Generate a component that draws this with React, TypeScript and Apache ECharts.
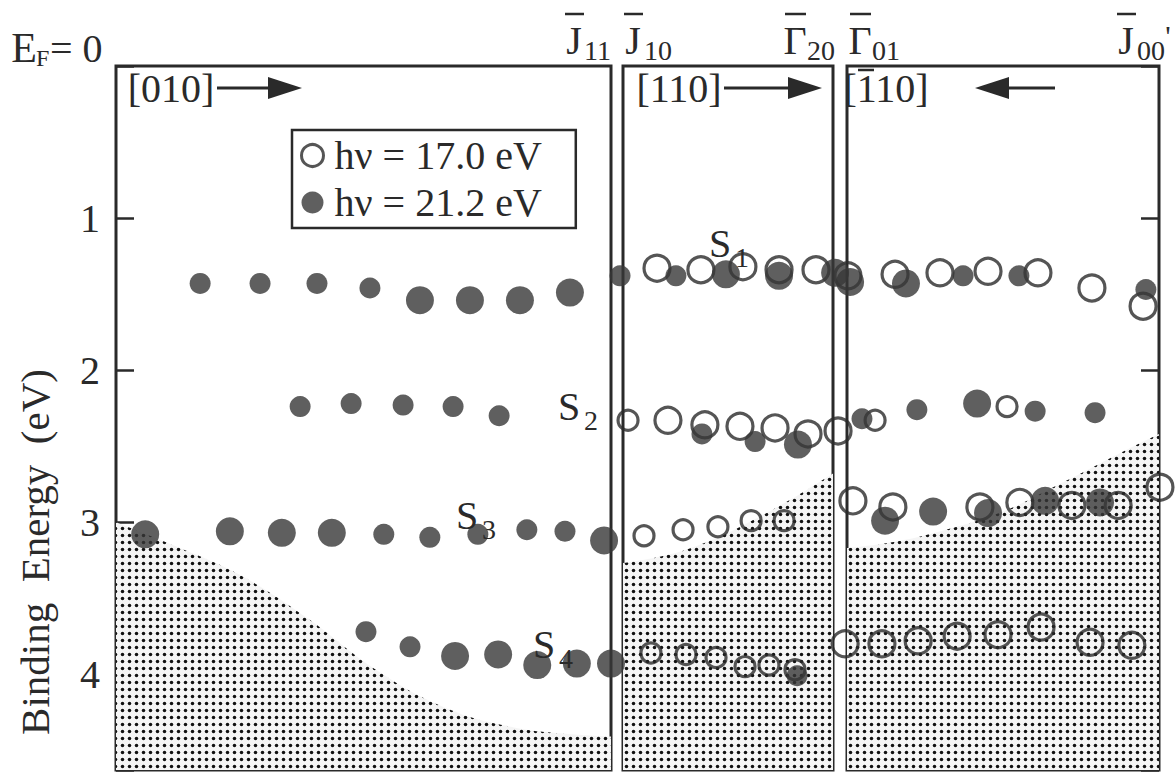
import React, { useEffect, useRef } from "react";
import * as echarts from "echarts";

// ---------------- data ----------------
// Each point: [position along the panel (% of panel width), binding energy (eV), strong=1 / weak=0]
const legendNames = ["hν = 17.0 eV", "hν = 21.2 eV"];
const yTickValues = [0, 1, 2, 3, 4];

// Panel 1: [010]  (J11 at right edge)
const p1Filled = [
  [17.0, 1.43, 0], [29.1, 1.43, 0], [40.6, 1.43, 0], [51.3, 1.46, 0],
  [61.4, 1.54, 1], [71.5, 1.54, 1], [81.6, 1.54, 1], [91.7, 1.49, 1],
  [37.2, 2.24, 0], [47.5, 2.22, 0], [58.0, 2.23, 0], [68.1, 2.24, 0], [77.4, 2.3, 0],
  [5.9, 3.08, 1], [23.0, 3.06, 1], [33.5, 3.07, 1], [43.6, 3.07, 1], [54.1, 3.08, 0],
  [63.4, 3.1, 0], [73.1, 3.08, 0], [83.0, 3.05, 0], [90.7, 3.06, 0], [98.6, 3.12, 1],
  [50.5, 3.72, 0], [59.4, 3.82, 0], [68.5, 3.88, 1], [77.2, 3.87, 1], [85.1, 3.94, 1],
  [93.1, 3.93, 1], [100.0, 3.93, 1],
];
const p1Bulk = [
  [0, 3.0], [10.7, 3.14], [24.6, 3.34], [38.6, 3.63], [52.5, 3.97],
  [66.5, 4.22], [80.4, 4.35], [94.3, 4.4], [100, 4.41],
];

// Panel 2: [110]  (J10 -> Γ20)
const p2Open = [
  [16.2, 1.33, 1], [37.1, 1.34, 1], [57.1, 1.32, 1], [74.3, 1.34, 1], [91.9, 1.34, 1],
  [2.4, 2.33, 0], [21.4, 2.33, 1], [39.0, 2.36, 1], [55.7, 2.37, 1], [72.4, 2.38, 1],
  [88.1, 2.42, 1], [102.4, 2.4, 1],
  [10.0, 3.09, 0], [28.6, 3.05, 0], [45.2, 3.03, 0], [61.0, 2.99, 0], [76.7, 2.99, 0],
  [13.3, 3.86, 0], [30.0, 3.87, 0], [44.3, 3.89, 0], [58.1, 3.95, 0], [69.5, 3.94, 0],
  [81.9, 3.97, 0],
];
const p2Filled = [
  [-1.4, 1.38, 0], [25.2, 1.38, 0], [49.0, 1.37, 1], [74.3, 1.38, 1], [101.0, 1.36, 1],
  [37.6, 2.42, 0], [62.9, 2.47, 0], [83.3, 2.49, 1],
  [82.9, 4.01, 0],
];
const p2Bulk = [
  [0, 3.27], [20, 3.22], [40, 3.13], [60, 3.0], [80, 2.85], [100, 2.68],
];

// Panel 3: [-110]  (Γ01 -> J00')
const p3Open = [
  [0.3, 1.38, 1], [15.4, 1.37, 1], [29.8, 1.36, 1], [45.2, 1.35, 1], [61.2, 1.36, 1],
  [78.5, 1.46, 1], [94.9, 1.58, 1],
  [9.0, 2.33, 0], [51.3, 2.24, 0],
  [1.9, 2.86, 1], [14.7, 2.9, 1], [42.6, 2.9, 1], [55.4, 2.87, 1], [72.1, 2.89, 1],
  [86.9, 2.89, 1], [100.3, 2.77, 1],
  [-0.6, 3.8, 1], [11.2, 3.8, 1], [22.8, 3.78, 1], [35.3, 3.75, 1], [48.4, 3.74, 1],
  [62.2, 3.69, 1], [77.9, 3.79, 1], [91.3, 3.81, 1],
];
const p3Filled = [
  [1.0, 1.42, 1], [18.9, 1.43, 1], [37.2, 1.38, 0], [55.1, 1.38, 0], [95.8, 1.47, 0],
  [4.8, 2.32, 0], [22.4, 2.26, 0], [41.7, 2.22, 1], [60.3, 2.27, 0], [79.5, 2.28, 0],
  [12.2, 2.99, 1], [27.6, 2.93, 1], [45.2, 2.94, 1], [63.5, 2.86, 1], [81.1, 2.87, 1],
];
const p3Bulk = [
  [0, 3.17], [15, 3.13], [30, 3.06], [50, 2.93], [70, 2.73], [90, 2.52], [100, 2.42],
];

// ---------------- styling ----------------
const FONT = '"Liberation Serif", "DejaVu Serif", serif';
const INK = "#2a2a2a";
const FILL = "#373737";
const FS = 40;
const SUB = 28;

function dotPattern(): any {
  const c = document.createElement("canvas");
  c.width = 7;
  c.height = 7;
  const ctx = c.getContext("2d")!;
  ctx.fillStyle = "#f5f5f5";
  ctx.fillRect(0, 0, 7, 7);
  ctx.fillStyle = "#111111";
  ctx.beginPath();
  ctx.arc(3.5, 3.5, 1.75, 0, Math.PI * 2);
  ctx.fill();
  return { image: c, repeat: "repeat" };
}

function scatter(name: string, idx: number, data: number[][], open: boolean) {
  return {
    type: "scatter",
    name,
    xAxisIndex: idx,
    yAxisIndex: idx,
    data: data.map((d) => [d[0], d[1], d[2]]),
    symbol: "circle",
    symbolSize: (v: number[]) => (open ? (v[2] ? 26 : 20) : v[2] ? 28 : 21),
    clip: false,
    z: open ? 3 : 4,
    silent: true,
    itemStyle: open
      ? { color: "rgba(255,255,255,0)", borderColor: INK, borderWidth: 3.2 }
      : { color: FILL },
  };
}

function bulk(idx: number, data: number[][], pattern: any) {
  return {
    type: "line",
    name: "bulk",
    xAxisIndex: idx,
    yAxisIndex: idx,
    data,
    smooth: 0.4,
    symbol: "none",
    silent: true,
    z: 1,
    lineStyle: { width: 0 },
    areaStyle: { color: pattern, origin: "end", opacity: 1 },
  };
}

function txt(text: string, x: number, y: number, size: number, align = "center", extra: any = {}) {
  return {
    type: "text",
    x,
    y,
    silent: true,
    z: 10,
    ...extra,
    style: {
      text,
      fontSize: size,
      fontFamily: FONT,
      fill: INK,
      textAlign: align,
      textVerticalAlign: "middle",
    },
  };
}

function bar(x1: number, x2: number, y: number) {
  return { type: "line", silent: true, z: 10, shape: { x1, y1: y, x2, y2: y }, style: { stroke: INK, lineWidth: 2.5 } };
}

function arrow(x1: number, x2: number, y: number) {
  // arrow pointing from x1 to x2
  const dir = x2 > x1 ? 1 : -1;
  const hx = x2 - dir * 34;
  return [
    { type: "line", silent: true, z: 10, shape: { x1, y1: y, x2: hx + dir * 2, y2: y }, style: { stroke: INK, lineWidth: 3 } },
    {
      type: "polygon",
      silent: true,
      z: 10,
      shape: { points: [[hx, y - 11], [x2, y], [hx, y + 11]] },
      style: { fill: INK },
    },
  ];
}

const grids = [
  { left: 116, top: 66, width: 495, height: 704 },
  { left: 623, top: 66, width: 210, height: 704 },
  { left: 847, top: 66, width: 312, height: 704 },
];

export default function App() {
  const ref = useRef<HTMLDivElement>(null);
  useEffect(() => {
    if (!ref.current) return;
    const chart = echarts.init(ref.current, undefined, { renderer: "svg" });
    const pattern = dotPattern();

    const yBase = {
      type: "value",
      inverse: true,
      min: 0,
      max: 4.63,
      interval: 1,
      axisLine: { show: false, onZero: false },
      splitLine: { show: false },
    };

    const option: any = {
      animation: false,
      backgroundColor: "#ffffff",
      grid: grids.map((g) => ({
        ...g,
        show: true,
        borderColor: INK,
        borderWidth: 3,
        backgroundColor: "rgba(0,0,0,0)",
        containLabel: false,
      })),
      xAxis: grids.map((_, i) => ({
        type: "value",
        gridIndex: i,
        min: 0,
        max: 100,
        show: false,
      })),
      yAxis: [
        {
          ...yBase,
          gridIndex: 0,
          position: "left",
          axisTick: { show: true, inside: true, length: 18, lineStyle: { color: INK, width: 2.5 } },
          axisLabel: {
            show: true,
            margin: 16,
            fontSize: FS,
            fontFamily: FONT,
            color: INK,
            formatter: (v: number) => (v === 0 || !yTickValues.includes(v) ? "" : String(v)),
          },
        },
        { ...yBase, gridIndex: 1, axisTick: { show: false }, axisLabel: { show: false } },
        {
          ...yBase,
          gridIndex: 2,
          position: "right",
          axisTick: { show: true, inside: true, length: 18, lineStyle: { color: INK, width: 2.5 } },
          axisLabel: { show: false },
        },
      ],
      legend: {
        show: true,
        orient: "vertical",
        left: 292,
        top: 130,
        itemWidth: 22,
        itemHeight: 22,
        itemGap: 6,
        padding: [5, 34, 5, 8],
        borderColor: INK,
        borderWidth: 2.5,
        backgroundColor: "#ffffff",
        selectedMode: false,
        textStyle: { fontSize: FS, fontFamily: FONT, color: INK, lineHeight: 41, padding: [0, 0, 0, 6] },
        data: [
          {
            name: legendNames[0],
            icon: "circle",
            itemStyle: { color: "rgba(255,255,255,0)", borderColor: INK, borderWidth: 3 },
          },
          { name: legendNames[1], icon: "circle", itemStyle: { color: FILL } },
        ],
      },
      series: [
        bulk(0, p1Bulk, pattern),
        bulk(1, p2Bulk, pattern),
        bulk(2, p3Bulk, pattern),
        scatter(legendNames[0], 1, p2Open, true),
        scatter(legendNames[0], 2, p3Open, true),
        scatter(legendNames[1], 0, p1Filled, false),
        scatter(legendNames[1], 1, p2Filled, false),
        scatter(legendNames[1], 2, p3Filled, false),
      ],
      graphic: [
        // E_F = 0
        txt("E", 24, 48, FS + 2),
        txt("F", 36, 58, SUB - 4, "left"),
        txt("= 0", 50, 48, FS, "left"),
        // y-axis title
        txt("Binding  Energy  (eV)", 35, 552, 41, "center", { rotation: Math.PI / 2 }),
        // top symmetry points
        txt("J", 574, 40, FS), txt("11", 584, 50, SUB, "left"), bar(565, 584, 14),
        txt("J", 633, 40, FS), txt("10", 644, 50, SUB, "left"), bar(624, 643, 14),
        txt("Γ", 795, 40, FS), txt("20", 807, 50, SUB, "left"), bar(785, 806, 14),
        txt("Γ", 860, 40, FS), txt("01", 872, 50, SUB, "left"), bar(850, 871, 14),
        txt("J", 1126, 40, FS), txt("00", 1137, 50, SUB, "left"), txt("'", 1168, 35, 30), bar(1117, 1136, 14),
        // direction labels
        txt("[010]", 171, 88, FS),
        ...arrow(217, 302, 88),
        txt("[110]", 679, 88, FS),
        ...arrow(724, 822, 88),
        txt("[110]", 886, 88, FS),
        bar(858, 874, 70),
        ...arrow(1055, 975, 88),
        // surface state labels
        txt("S", 720, 243, FS), txt("1", 735, 257, SUB, "left"),
        txt("S", 569, 406, FS), txt("2", 584, 420, SUB, "left"),
        txt("S", 467, 515, FS), txt("3", 482, 529, SUB, "left"),
        txt("S", 544, 644, FS), txt("4", 559, 658, SUB, "left"),
      ],
    };
    chart.setOption(option);
    return () => chart.dispose();
  }, []);
  return (
    <div
      ref={ref}
      style={{ position: "fixed", left: 0, top: 0, width: 1175, height: 776, background: "#fff" }}
    />
  );
}
